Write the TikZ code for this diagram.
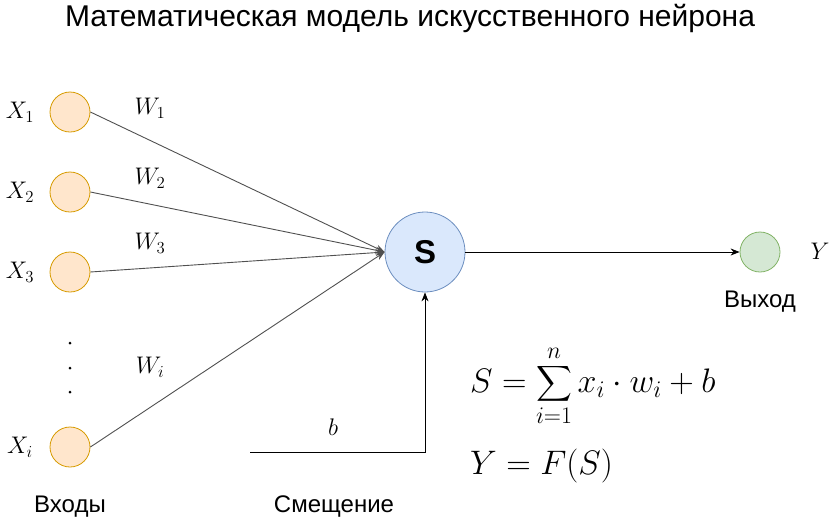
\RequirePackage{fix-cm}
\documentclass[tikz,border=0pt]{standalone}
\usepackage{amsmath}
\usepackage{fontspec}
\setmainfont{Liberation Sans}
\usetikzlibrary{arrows.meta}
\definecolor{infill}{HTML}{FFE6CC}
\definecolor{indraw}{HTML}{D79B00}
\definecolor{sfill}{HTML}{DAE8FC}
\definecolor{sdraw}{HTML}{6C8EBF}
\definecolor{ofill}{HTML}{D5E8D4}
\definecolor{odraw}{HTML}{82B366}
\definecolor{edgegray}{HTML}{505050}
\tikzset{
  inp/.style={circle, draw=indraw, fill=infill, minimum size=40pt, inner sep=0pt, line width=0.8pt},
  summ/.style={circle, draw=sdraw, fill=sfill, minimum size=80pt, inner sep=0pt, line width=0.8pt, font=\fontsize{33}{37}\selectfont\bfseries},
  outp/.style={circle, draw=odraw, fill=ofill, minimum size=40pt, inner sep=0pt, line width=0.8pt},
  mlabel/.style={inner sep=0pt, font=\fontsize{24}{28}\selectfont},
  txt/.style={inner sep=0pt, font=\fontsize{24}{28}\selectfont},
  wedge/.style={draw=edgegray, line width=0.9pt, -{Stealth[length=9pt,width=7pt]}},
  bedge/.style={draw=black, line width=0.9pt, -{Stealth[length=9pt,width=7pt]}},
  dotc/.style={circle, fill=black, minimum size=3pt, inner sep=0pt},
  formula/.style={anchor=west, inner sep=0pt, font=\fontsize{34}{38}\selectfont},
}
\begin{document}
\begin{tikzpicture}[x=1pt,y=-1pt]
\useasboundingbox (0,0) rectangle (840,523);
\node[txt, font=\fontsize{30}{34}\selectfont] (title) at (410,18) {Математическая модель искусственного нейрона};
\node[inp] (in1) at (70,112) {};
\node[inp] (in2) at (70,192) {};
\node[inp] (in3) at (70,272) {};
\node[inp] (ini) at (70,447) {};
\node[mlabel] (x1) at (20,112) {$X_1$};
\node[mlabel] (x2) at (20,192) {$X_2$};
\node[mlabel] (x3) at (20,272) {$X_3$};
\node[mlabel] (xi) at (20,447) {$X_i$};
\node[dotc] (d1) at (70,343) {};
\node[dotc] (d2) at (70,368) {};
\node[dotc] (d3) at (70,392) {};
\node[summ] (S) at (425,252) {S};
\node[outp] (out) at (760,252) {};
\node[mlabel] (ylab) at (820,251) {$Y$};
\node[mlabel] (w1) at (150,108) {$W_1$};
\node[mlabel] (w2) at (150,178) {$W_2$};
\node[mlabel] (w3) at (150,243) {$W_3$};
\node[mlabel] (wi) at (150,367) {$W_i$};
\node[mlabel] (blab) at (333,427) {$b$};
\coordinate (bstart) at (250,452);
\coordinate (bcorner) at (425,452);
\draw[wedge] (in1.east) -- (S.west);
\draw[wedge] (in2.east) -- (S.west);
\draw[wedge] (in3.east) -- (S.west);
\draw[wedge] (ini.east) -- (S.west);
\draw[bedge] (S.east) -- (out.west);
\draw[bedge] (bstart) -- (bcorner) -- (S.south);
\node[txt] (inputs) at (70,507) {Входы};
\node[txt] (bias) at (334,507) {Смещение};
\node[txt] (output) at (760,302) {Выход};
\node[formula] (f1) at (470,386) {$\displaystyle S=\sum_{i=1}^{n} x_i\cdot w_i + b$};
\node[formula] (f2) at (470,466) {$Y=F(S)$};
\end{tikzpicture}
\end{document}
